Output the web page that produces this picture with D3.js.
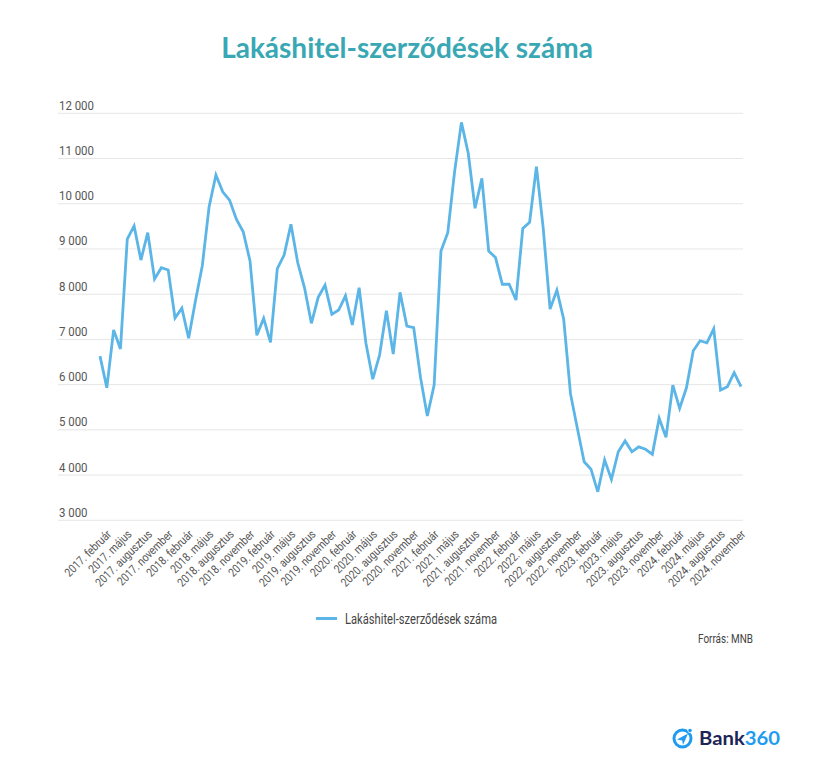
<!DOCTYPE html>
<html>
<head>
<meta charset="utf-8">
<script src="https://cdn.jsdelivr.net/npm/d3@7/dist/d3.min.js"></script>
<style>
  html, body { margin: 0; padding: 0; background: #ffffff; }
  svg { display: block; }
  .narrow { font-family: Roboto, "Noto Sans", sans-serif; }
</style>
</head>
<body>
<svg id="chart" width="813" height="769"></svg>
<script>
// ---- DATA ----
const title = "Lakáshitel-szerződések száma";
const seriesName = "Lakáshitel-szerződések száma";
const source = "Forrás: MNB";
const years = [2017, 2018, 2019, 2020, 2021, 2022, 2023, 2024];
const monthNames = ["január","február","március","április","május","június","július","augusztus","szeptember","október","november","december"];
// monthly values, 2017. február – 2024. december
const values = [
  6630, 5930, 7210, 6790, 9220, 9510, 8755, 9360, 8335, 8585, 8535,
  7475, 7690, 7025, 7855, 8630, 9935, 10635, 10265, 10080, 9660, 9380, 8735,
  7090, 7465, 6935, 8565, 8865, 9545, 8695, 8135, 7355, 7930, 8200, 7555,
  7650, 7965, 7320, 8145, 6915, 6120, 6655, 7635, 6675, 8040, 7295, 7260,
  6160, 5305, 5990, 8955, 9360, 10710, 11800, 11115, 9900, 10560, 8955, 8810,
  8220, 8220, 7870, 9455, 9590, 10820, 9455, 7670, 8090, 7445, 5795, 5035,
  4295, 4130, 3630, 4335, 3905, 4515, 4755, 4515, 4625, 4570, 4460, 5255,
  4835, 5990, 5475, 5930, 6750, 6970, 6925, 7235, 5880, 5955, 6265, 5955
];
const yTicks = [3000, 4000, 5000, 6000, 7000, 8000, 9000, 10000, 11000, 12000];
const tickMonths = ["február", "május", "augusztus", "november"];

// categories built from years x month names, starting at 2017. február
const categories = [];
years.forEach(y => monthNames.forEach(m => categories.push(y + ". " + m)));
const cats = categories.slice(1, 1 + values.length);
const xTickLabels = cats.filter(c => tickMonths.includes(c.split(". ")[1]));

// ---- LAYOUT ----
const svg = d3.select("#chart");
const gridLeft = 58, gridRight = 743;
const x = d3.scalePoint().domain(cats).range([100, 741]);
const y = d3.scaleLinear().domain([3000, 12000]).range([520.3, 113.3]);
const fmt = v => d3.format(",")(v).replace(/,/g, " ");

// title
svg.append("text")
  .attr("x", 407).attr("y", 58)
  .attr("text-anchor", "middle")
  .attr("font-family", "Lato, 'Open Sans', sans-serif")
  .attr("font-weight", 700)
  .attr("font-size", 28)
  .attr("fill", "#3aa7b4")
  .text(title);

// gridlines + y labels
const yAxis = svg.append("g");
yAxis.selectAll("line").data(yTicks).join("line")
  .attr("x1", gridLeft).attr("x2", gridRight)
  .attr("y1", d => y(d)).attr("y2", d => y(d))
  .attr("stroke", "#e6e6e6").attr("stroke-width", 1);
yAxis.selectAll("text").data(yTicks).join("text")
  .attr("class", "narrow")
  .attr("transform", d => `translate(59,${y(d) - 3.5}) scale(0.88,1)`)
  .attr("font-size", 13)
  .attr("fill", "#555")
  .text(d => fmt(d));

// x labels
const xAxis = svg.append("g");
xAxis.selectAll("text").data(xTickLabels).join("text")
  .attr("class", "narrow")
  .attr("text-anchor", "end")
  .attr("font-size", 12)
  .attr("fill", "#555")
  .attr("transform", d => `translate(${x(d) + 9},${532}) rotate(-45) scale(0.84,1)`)
  .attr("dy", "0.35em")
  .text(d => d);

// line
const line = d3.line()
  .x((d, i) => x(cats[i]))
  .y(d => y(d));
svg.append("path")
  .datum(values)
  .attr("d", line)
  .attr("fill", "none")
  .attr("stroke", "#5bb5e6")
  .attr("stroke-width", 2.8)
  .attr("stroke-linejoin", "miter");

// legend
svg.append("line")
  .attr("x1", 316).attr("x2", 337).attr("y1", 618.5).attr("y2", 618.5)
  .attr("stroke", "#5bb5e6").attr("stroke-width", 3);
svg.append("text")
  .attr("class", "narrow")
  .attr("x", 345).attr("y", 623.5)
  .attr("font-size", 14.5)
  .attr("fill", "#444")
  .attr("textLength", 152)
  .attr("lengthAdjust", "spacingAndGlyphs")
  .text(seriesName);

// source
svg.append("text")
  .attr("class", "narrow")
  .attr("x", 698).attr("y", 642.5)
  .attr("font-size", 13.5)
  .attr("fill", "#444")
  .attr("textLength", 55)
  .attr("lengthAdjust", "spacingAndGlyphs")
  .text(source);

// logo
const logo = svg.append("g");
logo.append("circle").attr("cx", 682.5).attr("cy", 738.5).attr("r", 8.5)
  .attr("fill", "none").attr("stroke", "#1f9cf0").attr("stroke-width", 3);
logo.append("circle").attr("cx", 690.5).attr("cy", 730).attr("r", 3)
  .attr("fill", "#ffffff");
logo.append("circle").attr("cx", 690).attr("cy", 730.5).attr("r", 1.8)
  .attr("fill", "#1f9cf0");
logo.append("path").attr("d", "M677 739.5 L688 733.5 L683 745 L682.2 740.5 Z")
  .attr("fill", "#1f9cf0");
const lt = logo.append("text")
  .attr("x", 699).attr("y", 745)
  .attr("font-family", "Lato, 'Open Sans', sans-serif")
  .attr("font-weight", 700)
  .attr("font-size", 19.5)
  .attr("textLength", 81)
  .attr("lengthAdjust", "spacingAndGlyphs");
lt.append("tspan").attr("fill", "#1b2556").text("Bank");
lt.append("tspan").attr("fill", "#1f9cf0").text("360");
</script>
</body>
</html>
